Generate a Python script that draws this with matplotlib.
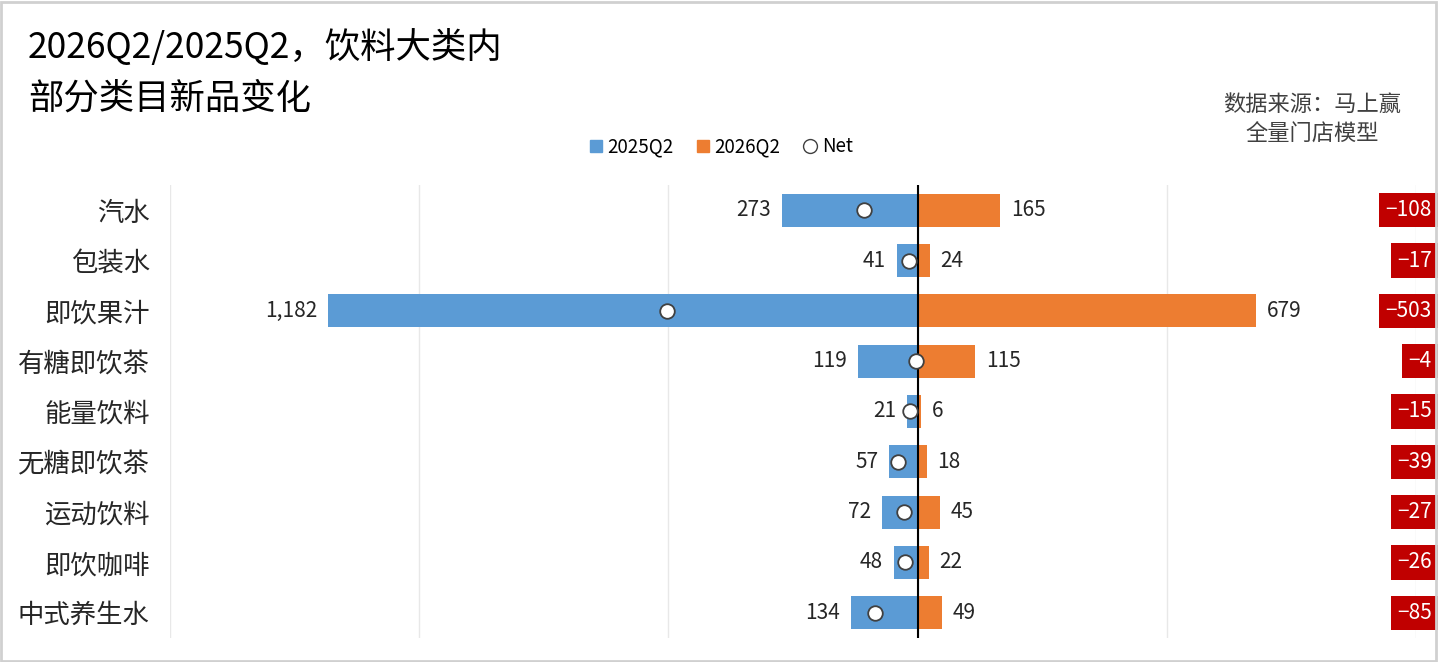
import matplotlib.pyplot as plt
from matplotlib.patches import Rectangle
from matplotlib.lines import Line2D

plt.rcParams['font.family'] = ['Noto Sans CJK SC', 'DejaVu Sans']

# data
categories = ['汽水', '包装水', '即饮果汁', '有糖即饮茶', '能量饮料', '无糖即饮茶', '运动饮料', '即饮咖啡', '中式养生水']
q2025 = [273, 41, 1182, 119, 21, 57, 72, 48, 134]
q2026 = [165, 24, 679, 115, 6, 18, 45, 22, 49]
net = [b - a for a, b in zip(q2025, q2026)]

BLUE = '#5B9BD5'
ORANGE = '#ED7D31'
RED = '#C00000'

fig = plt.figure(figsize=(14.39, 6.62), dpi=100)
ax = fig.add_axes([0.1181, 0.0363, 0.8660, 0.6842])

y = list(range(len(categories)))
ax.barh(y, [-v for v in q2025], height=0.66, color=BLUE, zorder=2)
ax.barh(y, q2026, height=0.66, color=ORANGE, zorder=2)
ax.axvline(0, color='black', lw=1.5, zorder=3)
ax.scatter(net, y, s=110, facecolor='white', edgecolor='#404040', lw=1.3, zorder=4)

off = 22
for i in y:
    ax.text(-q2025[i] - off, i, f'{q2025[i]:,}', ha='right', va='center', fontsize=15, color='#262626')
    ax.text(q2026[i] + off, i, f'{q2026[i]:,}', ha='left', va='center', fontsize=15, color='#262626')
    ax.text(1.0125, i, f'{net[i]}'.replace('-', '−'), transform=ax.get_yaxis_transform(),
            ha='right', va='center', fontsize=15, color='white', clip_on=False,
            bbox=dict(boxstyle='square,pad=0.3', fc=RED, ec='none'))

ax.set_xlim(-1500, 1000)
ax.set_ylim(len(categories) - 0.5, -0.5)
ax.set_xticks([-1500, -1000, -500, 0, 500, 1000])
ax.grid(axis='x', color='#E8E8E8', lw=1, zorder=0)
ax.tick_params(axis='x', bottom=False, labelbottom=False)
ax.tick_params(axis='y', left=False, pad=11)
ax.set_yticks(y)
ax.set_yticklabels(categories, fontsize=19, color='#262626')
for s in ax.spines.values():
    s.set_visible(False)

# title and source
fig.text(0.0195, 0.928, '2026Q2/2025Q2，饮料大类内', fontsize=25.5, va='center', ha='left')
fig.text(0.0195, 0.851, '部分类目新品变化', fontsize=25.5, va='center', ha='left')
fig.text(0.912, 0.843, '数据来源：马上赢', fontsize=16, va='center', ha='center', color='#404040')
fig.text(0.912, 0.797, '全量门店模型', fontsize=16, va='center', ha='center', color='#404040')

# legend
handles = [
    Line2D([], [], marker='s', ls='', color=BLUE, markersize=8),
    Line2D([], [], marker='s', ls='', color=ORANGE, markersize=8),
    Line2D([], [], marker='o', ls='', markerfacecolor='white', markeredgecolor='#404040', markersize=10),
]
fig.legend(handles, ['2025Q2', '2026Q2', 'Net'], loc='center', bbox_to_anchor=(0.5, 0.778),
           ncol=3, frameon=False, fontsize=13.5, handletextpad=0.1, columnspacing=1.1, handlelength=1)

fig.patches.append(Rectangle((0.001, 0.002), 0.997, 0.995, transform=fig.transFigure,
                             fill=False, ec='#D0D0D0', lw=2))

fig.savefig('out.png', dpi=100)
